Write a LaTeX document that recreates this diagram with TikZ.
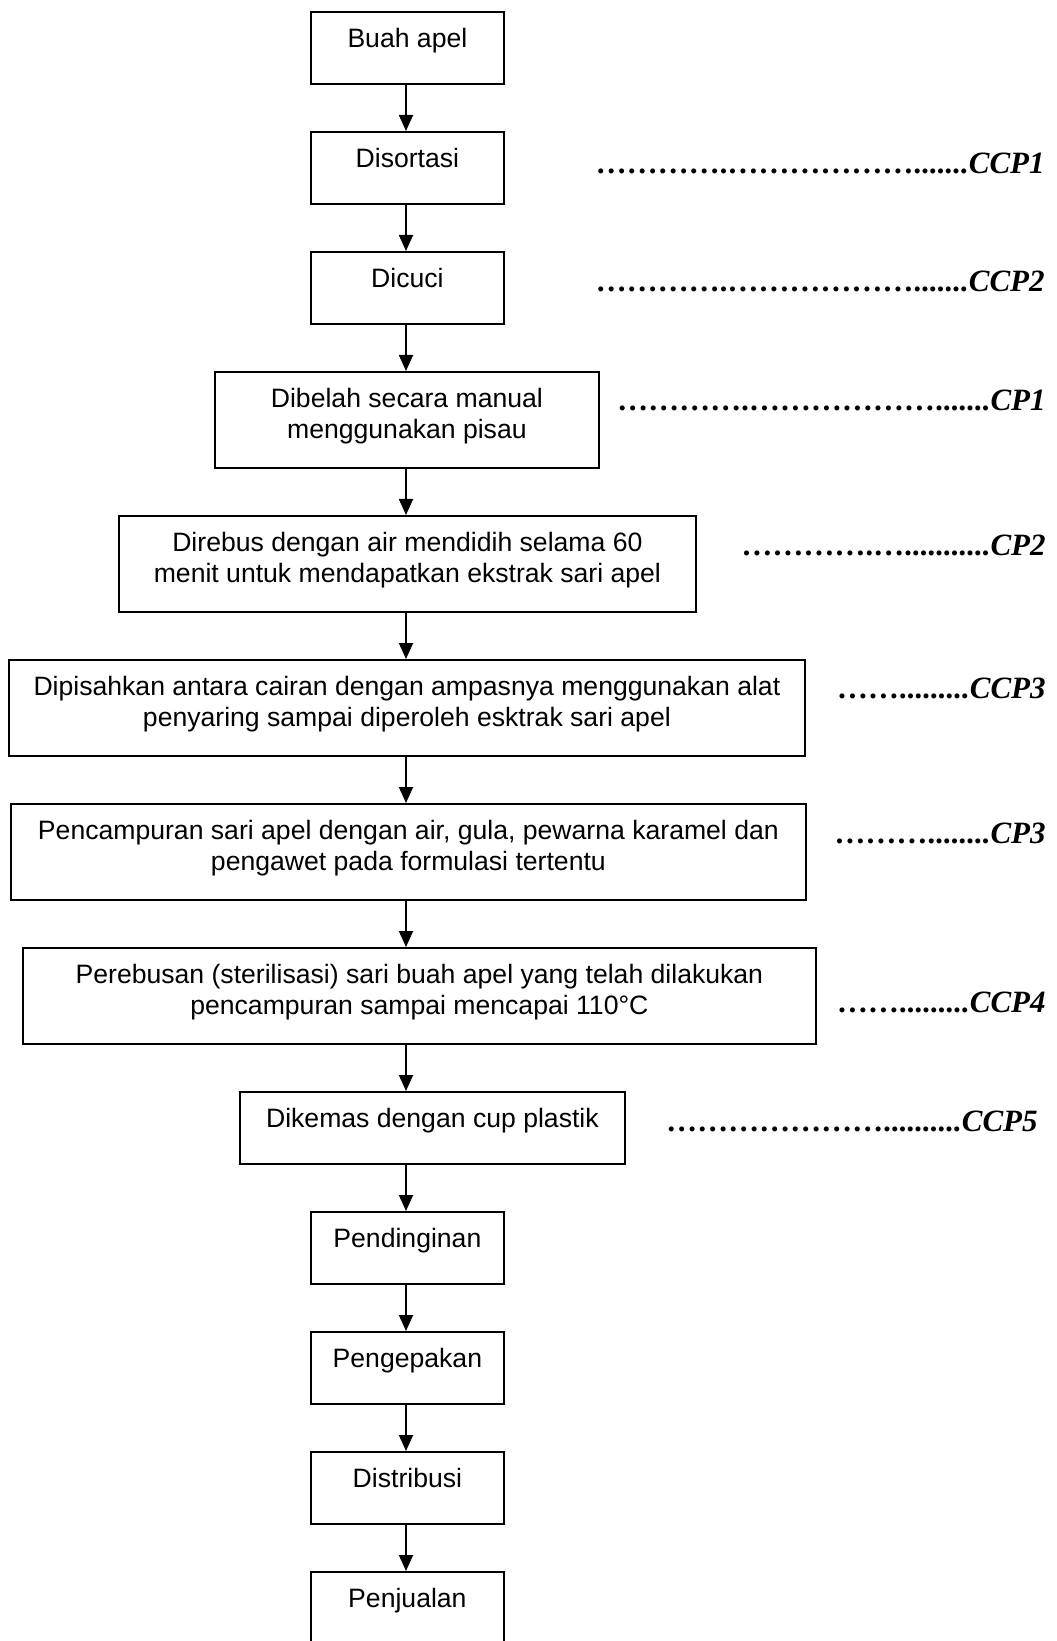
\documentclass[tikz,border=0pt]{standalone}
\usepackage{fontspec}
\setmainfont{Liberation Sans}
\newfontfamily\timesfont{Liberation Serif}
\usetikzlibrary{arrows.meta}
\newcommand\leaddots[2]{\foreach\i in {1,...,#1}{…}\foreach\i in {1,...,#2}{.}}
\begin{document}
\begin{tikzpicture}[x=0.5pt,y=-0.5pt,
  bx/.style 2 args={draw, line width=0.9pt, inner sep=0pt, anchor=north west,
    minimum width=#1*0.5pt, minimum height=#2*0.5pt},
  txt/.style={font=\fontsize{13.3}{15.3}\selectfont, align=center, anchor=north,
    inner sep=0pt, yshift=-7.3pt},
  arr/.style={line width=0.9pt, -{Triangle[length=8pt,width=7pt]}},
  cp/.style={font=\timesfont\bfseries\itshape\fontsize{15.5}{18}\selectfont,
    anchor=base east, inner sep=0pt}]
\useasboundingbox (0,0) rectangle (1056,1641);
\coordinate (ax) at (406,0);

\node[bx={193}{72}, label={[txt,name=t1]north:{\strut Buah apel}}] (b1) at (310,11) {};
\node[bx={193}{72}, label={[txt,name=t2]north:{\strut Disortasi}}] (b2) at (310,131) {};
\node[bx={193}{72}, label={[txt,name=t3]north:{\strut Dicuci}}] (b3) at (310,251) {};
\node[bx={384}{96}, label={[txt,name=t4]north:{\strut Dibelah secara manual\\\strut menggunakan pisau}}] (b4) at (214,371) {};
\node[bx={577}{96}, label={[txt,name=t5]north:{\strut Direbus dengan air mendidih selama 60\\\strut menit untuk mendapatkan ekstrak sari apel}}] (b5) at (118,515) {};
\node[bx={796}{96}, label={[txt,name=t6]north:{\strut Dipisahkan antara cairan dengan ampasnya menggunakan alat\\\strut penyaring sampai diperoleh esktrak sari apel}}] (b6) at (8,659) {};
\node[bx={795}{96}, label={[txt,name=t7]north:{\strut Pencampuran sari apel dengan air, gula, pewarna karamel dan\\\strut pengawet pada formulasi tertentu}}] (b7) at (10,803) {};
\node[bx={793}{96}, label={[txt,name=t8]north:{\strut Perebusan (sterilisasi) sari buah apel yang telah dilakukan\\\strut pencampuran sampai mencapai 110°C}}] (b8) at (22,947) {};
\node[bx={385}{72}, label={[txt,name=t9]north:{\strut Dikemas dengan cup plastik}}] (b9) at (239,1091) {};
\node[bx={193}{72}, label={[txt,name=t10]north:{\strut Pendinginan}}] (b10) at (310,1211) {};
\node[bx={193}{72}, label={[txt,name=t11]north:{\strut Pengepakan}}] (b11) at (310,1331) {};
\node[bx={193}{72}, label={[txt,name=t12]north:{\strut Distribusi}}] (b12) at (310,1451) {};
\node[bx={193}{76}, label={[txt,name=t13]north:{\strut Penjualan}}] (b13) at (310,1571) {};

\foreach \a/\b in {b1/b2,b2/b3,b3/b4,b4/b5,b5/b6,b6/b7,b7/b8,b8/b9,b9/b10,b10/b11,b11/b12,b12/b13}
  \draw[arr] (\a.south -| ax) -- (\b.north -| ax);

\node[cp] (l1) at (1045,174) {\leaddots{4}{1}\leaddots{6}{7}CCP1};
\node[cp] (l2) at (1045,292) {\leaddots{4}{1}\leaddots{6}{7}CCP2};
\node[cp] (l3) at (1046,411) {\leaddots{4}{1}\leaddots{6}{7}CP1};
\node[cp] (l4) at (1046,555) {\leaddots{4}{1}\leaddots{1}{11}CP2};
\node[cp] (l5) at (1046,698) {\leaddots{2}{9}CCP3};
\node[cp] (l6) at (1046,843) {\leaddots{3}{8}CP3};
\node[cp] (l7) at (1046,1012) {\leaddots{2}{9}CCP4};
\node[cp] (l8) at (1038,1131) {\leaddots{7}{10}CCP5};
\end{tikzpicture}
\end{document}
